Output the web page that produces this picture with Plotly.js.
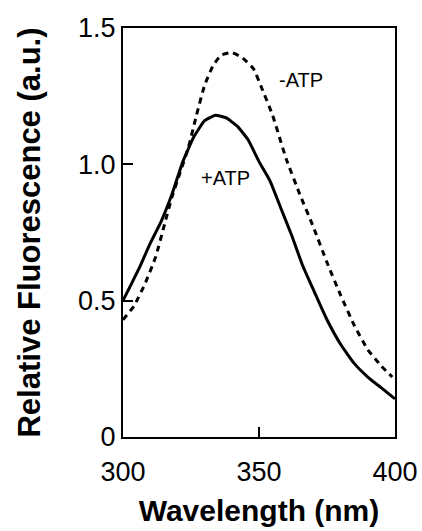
<!DOCTYPE html>
<html>
<head>
<meta charset="utf-8">
<script src="https://cdn.plot.ly/plotly-3.0.1.min.js"></script>
<style>
html,body{margin:0;padding:0;background:#fff;}
#chart{width:422px;height:531px;}
</style>
</head>
<body>
<div id="chart"></div>
<script>
// +ATP (solid)
const wlPlus = [300, 303, 306, 310, 314, 318, 322, 326, 330, 334, 338, 342, 346, 350, 354, 358, 362, 366, 370, 375, 380, 385, 390, 395, 400];
const fPlus  = [0.50, 0.56, 0.62, 0.71, 0.79, 0.89, 1.01, 1.10, 1.16, 1.18, 1.17, 1.14, 1.09, 1.01, 0.94, 0.84, 0.74, 0.63, 0.54, 0.43, 0.34, 0.27, 0.22, 0.18, 0.14];
// -ATP (dashed)
const wlMinus = [300, 304, 308, 312, 315, 318, 321, 324, 327, 330, 333, 336, 340, 344, 348, 351, 355, 360, 365, 370, 375, 380, 385, 390, 395, 399];
const fMinus  = [0.43, 0.48, 0.56, 0.66, 0.77, 0.88, 0.97, 1.06, 1.18, 1.29, 1.36, 1.40, 1.41, 1.39, 1.35, 1.28, 1.18, 1.02, 0.89, 0.77, 0.64, 0.52, 0.41, 0.32, 0.26, 0.22];

const xTicks = [300, 350, 400];
const yTicks = [0, 0.5, 1.0, 1.5];
const yTickText = ["0", "0.5", "1.0", "1.5"];

const labels = [
  {text: "-ATP", x: 365.5, y: 1.31},
  {text: "+ATP", x: 337.5, y: 0.95}
];

const FONT = "Liberation Sans, Arial, sans-serif";

const traces = [
  {x: wlPlus, y: fPlus, mode: "lines", line: {color: "#000", width: 3, shape: "spline", smoothing: 0.4}, showlegend: false},
  {x: wlMinus, y: fMinus, mode: "lines", line: {color: "#000", width: 3, dash: "6px,5px", shape: "spline", smoothing: 0.4}, showlegend: false}
];

const layout = {
  width: 422, height: 531,
  margin: {l: 123, r: 27, t: 28, b: 94},
  paper_bgcolor: "#fff", plot_bgcolor: "#fff",
  font: {family: FONT, color: "#000"},
  xaxis: {
    range: [300, 400], tickmode: "array", tickvals: xTicks,
    ticks: "inside", ticklen: 10, tickwidth: 2, tickcolor: "#000",
    showline: true, linewidth: 2, linecolor: "#000", mirror: true,
    showgrid: false, zeroline: false, ticklabelstandoff: 10,
    tickfont: {size: 27, family: FONT},
    title: {text: "<b>Wavelength (nm)</b>", font: {size: 30, family: FONT}, standoff: 14}
  },
  yaxis: {
    range: [0, 1.5], tickmode: "array", tickvals: yTicks, ticktext: yTickText,
    ticks: "inside", ticklen: 10, tickwidth: 2, tickcolor: "#000",
    showline: true, linewidth: 2, linecolor: "#000", mirror: true,
    showgrid: false, zeroline: false,
    tickfont: {size: 27, family: FONT},
    title: {text: "<b>Relative Fluorescence (a.u.)</b>", font: {size: 31, family: FONT}, standoff: 28}
  },
  annotations: labels.map(l => ({
    text: l.text, x: l.x, y: l.y, xref: "x", yref: "y",
    showarrow: false, font: {size: 20, family: FONT, color: "#000"}
  }))
};

Plotly.newPlot("chart", traces, layout, {staticPlot: true, displayModeBar: false});
</script>
</body>
</html>
